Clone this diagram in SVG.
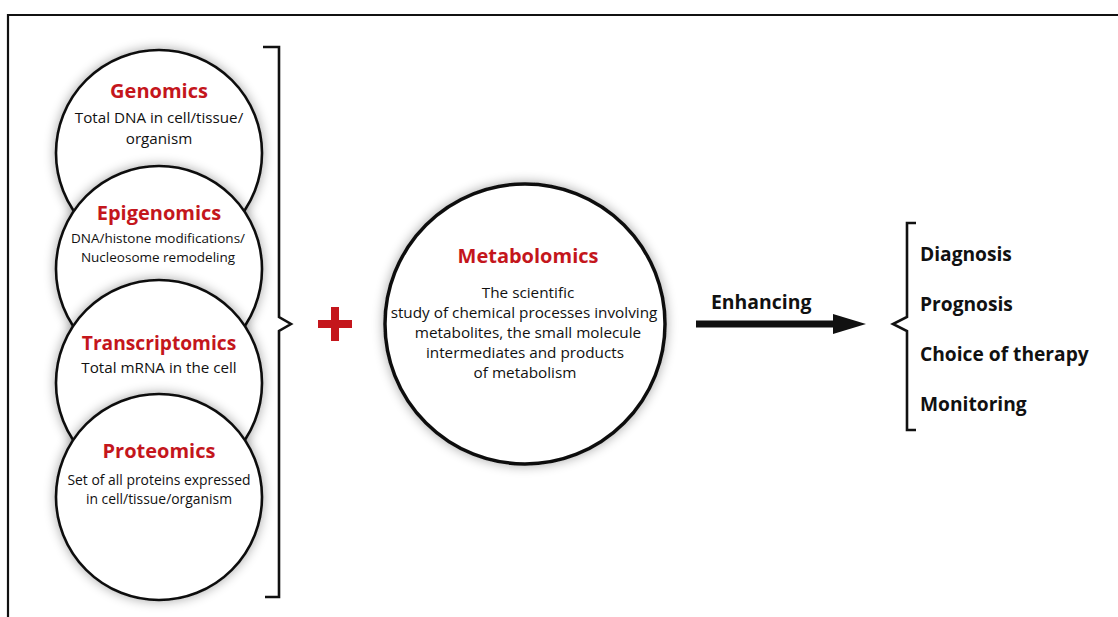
<svg xmlns="http://www.w3.org/2000/svg" width="1118" height="617" viewBox="0 0 1118 617">
<style>
.c{fill:#fff;stroke:#111;stroke-width:2.6}
.t{font-family:"Open Sans","Liberation Sans",sans-serif;font-weight:bold;fill:#c4161c;text-anchor:middle}
.b{font-family:"Open Sans","Liberation Sans",sans-serif;fill:#111;text-anchor:middle}
.r{font-family:"Open Sans","Liberation Sans",sans-serif;font-weight:bold;fill:#111}
.ln{fill:none;stroke:#111;stroke-width:2.6}
</style>
<defs>
<filter id="sh" x="-20%" y="-20%" width="140%" height="140%">
<feGaussianBlur in="SourceAlpha" stdDeviation="6"/>
<feComponentTransfer><feFuncA type="linear" slope="0.35"/></feComponentTransfer>
<feMerge><feMergeNode/><feMergeNode in="SourceGraphic"/></feMerge>
</filter>
</defs>
<rect width="1118" height="617" fill="#fff"/>
<path d="M8,617 V15 H1118" fill="none" stroke="#111" stroke-width="2.2"/>
<g id="genomics">
<circle class="c" cx="159" cy="153" r="103" filter="url(#sh)"/>
<text class="t" x="159" y="98" font-size="20">Genomics</text>
<text class="b" x="159" y="123" font-size="15.2">Total DNA in cell/tissue/</text>
<text class="b" x="159" y="144" font-size="15.2">organism</text>
</g>
<g id="epigenomics">
<circle class="c" cx="159" cy="269" r="103" filter="url(#sh)"/>
<text class="t" x="159" y="220" font-size="20">Epigenomics</text>
<text class="b" x="158" y="243" font-size="13.5">DNA/histone modifications/</text>
<text class="b" x="158" y="262" font-size="13.5">Nucleosome remodeling</text>
</g>
<g id="transcriptomics">
<circle class="c" cx="159" cy="383" r="103" filter="url(#sh)"/>
<text class="t" x="159" y="350" font-size="19.2">Transcriptomics</text>
<text class="b" x="159" y="373" font-size="15.2">Total mRNA in the cell</text>
</g>
<g id="proteomics">
<circle class="c" cx="159" cy="497" r="103" filter="url(#sh)"/>
<text class="t" x="159" y="458" font-size="20">Proteomics</text>
<text class="b" x="159" y="485" font-size="13.9">Set of all proteins expressed</text>
<text class="b" x="159" y="504" font-size="13.9">in cell/tissue/organism</text>
</g>
<g id="plus">
<rect x="318" y="320" width="34" height="8" fill="#c4161c"/>
<rect x="331" y="307" width="8" height="34" fill="#c4161c"/>
</g>
<g id="metabolomics">
<circle cx="525" cy="324" r="140" fill="#fff" stroke="#111" stroke-width="3.5" filter="url(#sh)"/>
<text class="t" x="528" y="263" font-size="20">Metabolomics</text>
<text class="b" x="528" y="298" font-size="15.3">The scientific</text>
<text class="b" x="524" y="318" font-size="15.3">study of chemical processes involving</text>
<text class="b" x="528" y="338" font-size="15.3">metabolites, the small molecule</text>
<text class="b" x="525" y="358" font-size="15.3">intermediates and products</text>
<text class="b" x="525" y="378" font-size="15.3">of metabolism</text>
</g>
<g id="outcomes">
<text class="r" x="920" y="261" font-size="19.2">Diagnosis</text>
<text class="r" x="920" y="311" font-size="19.2">Prognosis</text>
<text class="r" x="920" y="361" font-size="19.2">Choice of therapy</text>
<text class="r" x="920" y="411" font-size="19.2">Monitoring</text>
</g>
<g id="connectors">
<path class="ln" d="M263,47 H279 V317 L291,324 L279,331 V597 H265"/>
<text class="r" x="711" y="309" font-size="19.4">Enhancing</text>
<rect x="696" y="320.5" width="140" height="7" fill="#111"/>
<polygon points="833,314 866,324 833,334" fill="#111"/>
<path class="ln" d="M916,223 H907 V317 L893,324 L907,331 V430 H916"/>
</g>
</svg>
